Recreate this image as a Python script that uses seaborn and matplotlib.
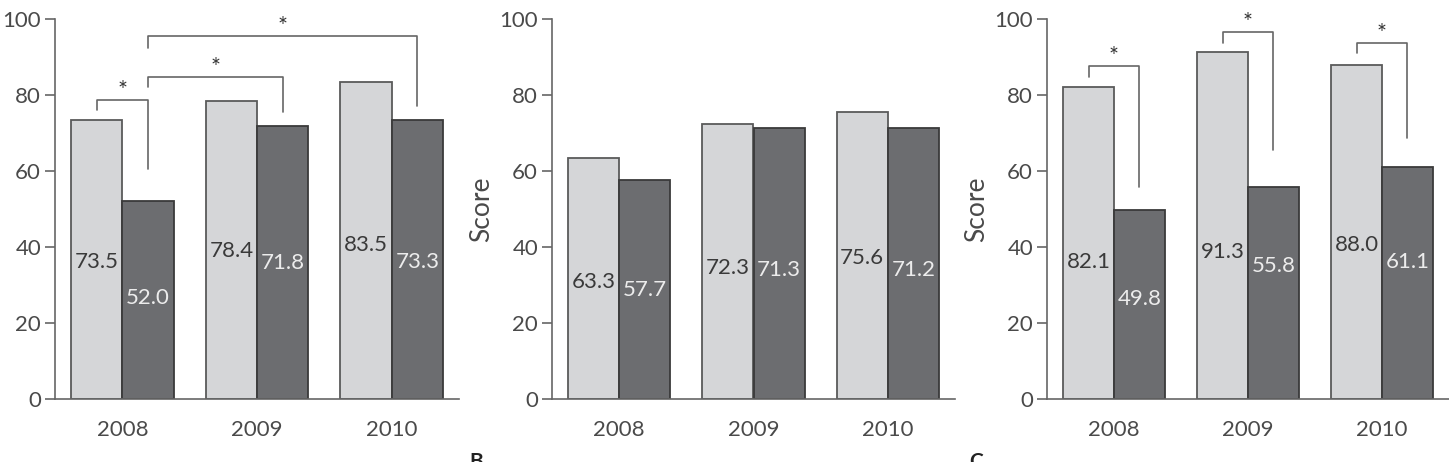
import pandas as pd
import matplotlib.pyplot as plt
import seaborn as sns

years = ["2008", "2009", "2010"]
groups = ["first", "second"]

a_first = [73.5, 78.4, 83.5]
a_second = [52.0, 71.8, 73.3]
b_first = [63.3, 72.3, 75.6]
b_second = [57.7, 71.3, 71.2]
c_first = [82.1, 91.3, 88.0]
c_second = [49.8, 55.8, 61.1]

yticks = [0, 20, 40, 60, 80, 100]

sns.set_style("ticks")
plt.rcParams["font.family"] = ["Lato", "DejaVu Sans"]

light = "#d5d6d8"
dark = "#6c6d70"
ink = "#4a4a4a"
line = "#666666"

# height of the value labels inside the bars (layout only)
label_y = {
    "A": ([36, 39, 40.5], [26.5, 35.7, 36]),
    "B": ([30.9, 34.4, 37], [28.7, 34, 34]),
    "C": ([36, 38.8, 40.5], [26.3, 35, 36]),
}
# significance brackets: (cat, series), (cat, series), top, left end, right end
brackets = {
    "A": [((0, 0), (0, 1), 78.6, 76, 60.5),
          ((0, 1), (1, 1), 84.8, 82, 75.5),
          ((0, 1), (2, 1), 95.5, 92.5, 77)],
    "B": [],
    "C": [((0, 0), (0, 1), 87.6, 84.8, 55.9),
          ((1, 0), (1, 1), 96.6, 93.6, 65.5),
          ((2, 0), (2, 1), 93.8, 91, 68.8)],
}

panels = [("A", a_first, a_second, 55, 404, ""),
          ("B", b_first, b_second, 552, 403, "Score"),
          ("C", c_first, c_second, 1047, 402, "Score")]

W, H = 1449, 462
fig = plt.figure(figsize=(W / 100, H / 100), dpi=100)

for name, first, second, left, width, ylabel in panels:
    ax = fig.add_axes([left / W, 1 - 399 / H, width / W, 380 / H])
    df = pd.DataFrame({
        "year": years * 2,
        "group": [groups[0]] * 3 + [groups[1]] * 3,
        "value": first + second,
    })
    sns.barplot(data=df, x="year", y="value", hue="group", palette=[light, dark],
                width=0.76, gap=0, legend=False, ax=ax, saturation=1,
                edgecolor="#3a3a3a", linewidth=1.3, errorbar=None)
    for bar in ax.containers[0]:
        bar.set_edgecolor("#5a5a5a")

    ax.set_xlim(-0.5, 2.5)
    ax.set_ylim(0, 100)
    ax.set_yticks(yticks)
    ax.set_xlabel("")
    ax.set_ylabel(ylabel, fontsize=19, color=ink, labelpad=4)
    ax.tick_params(axis="y", length=7, width=1.2, color=line, pad=3,
                   labelsize=16, labelcolor=ink)
    ax.tick_params(axis="x", length=0, pad=15, labelsize=16, labelcolor=ink)
    sns.despine(ax=ax)
    for side in ["left", "bottom"]:
        ax.spines[side].set_color(line)
        ax.spines[side].set_linewidth(1.2)

    vals = (first, second)
    for s, cont in enumerate(ax.containers):
        for c, bar in enumerate(cont):
            xc = bar.get_x() + bar.get_width() / 2
            ax.text(xc, label_y[name][s][c], f"{vals[s][c]:.1f}", ha="center",
                    va="center", fontsize=16,
                    color="#3a3a3a" if s == 0 else "#ececec")

    for (c1, s1), (c2, s2), top, y1, y2 in brackets[name]:
        b1 = ax.containers[s1][c1]
        b2 = ax.containers[s2][c2]
        x1 = b1.get_x() + b1.get_width() / 2
        x2 = b2.get_x() + b2.get_width() / 2
        ax.plot([x1, x1, x2, x2], [y1, top, top, y2], color=line,
                lw=1.2, clip_on=False)
        ax.text((x1 + x2) / 2, top + 0.8, "*", ha="center", va="baseline",
                fontsize=17, color="#333333", clip_on=False)

fig.text(476 / W, 1 - 452 / H, "B", ha="center", va="top", fontsize=15,
         fontweight="bold", color="#222222")
fig.text(976 / W, 1 - 452 / H, "C", ha="center", va="top", fontsize=15,
         fontweight="bold", color="#222222")

fig.savefig("out.png", dpi=100)
